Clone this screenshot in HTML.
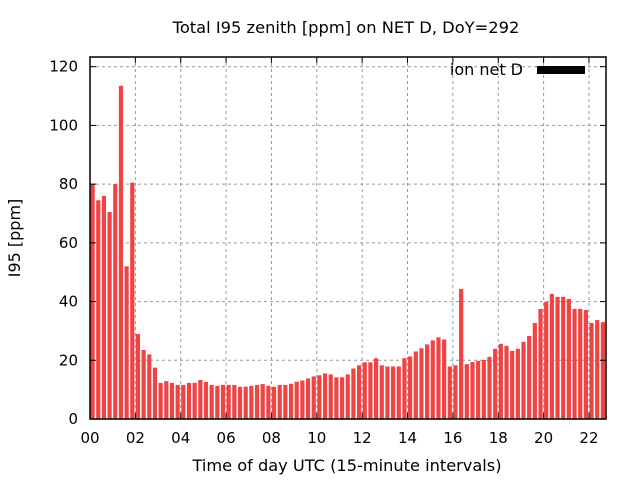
<!DOCTYPE html>
<html><head><meta charset="utf-8"><style>
body{margin:0;background:#fff}
svg text{font-family:"DejaVu Sans","Liberation Sans",sans-serif;fill:#000}
</style></head><body>
<svg id="chart" width="640" height="480">
<defs><clipPath id="pc"><rect x="90" y="57" width="516" height="362"/></clipPath></defs>
<text x="346" y="33" font-size="16.3" text-anchor="middle">Total I95 zenith [ppm] on NET D, DoY=292</text>
<text x="347" y="471" font-size="16.2" text-anchor="middle">Time of day UTC (15-minute intervals)</text>
<text x="20" y="238" font-size="16" text-anchor="middle" transform="rotate(-90 20 238)">I95 [ppm]</text>
<g id="grid"></g><g id="bars" clip-path="url(#pc)"></g><g id="axes"></g>
<text x="523" y="75" font-size="16" text-anchor="end">ion net D</text>
<rect x="537" y="66" width="48" height="8" fill="#000"/>
</svg>
<script>
const values=[80,74.5,76,70.5,80,113.5,52,80.5,29,23.5,22,17.5,
12.3,12.9,12.3,11.6,11.6,12.3,12.3,13.3,12.6,11.6,11.3,11.6,11.6,11.6,11.0,11.0,11.3,11.6,11.9,11.3,11.0,11.6,
11.6,12.0,12.7,13.1,13.8,14.5,14.9,15.5,15.2,14.2,14.2,15.2,17.2,18.3,19.3,19.3,20.7,18.3,17.9,17.9,17.9,20.7,21.3,23.0,24.1,25.4,26.8,27.8,27.1,17.9,18.3,44.3,
18.7,19.4,19.8,20.1,21.2,23.9,25.6,24.9,23.2,23.9,26.3,28.3,32.7,37.5,39.9,42.6,41.6,41.6,40.9,37.5,37.5,37.1,32.7,33.7,33.0,32.3];
const yTicks=[0,20,40,60,80,100,120];
const xTicks=["00","02","04","06","08","10","12","14","16","18","20","22"];
const L=90,R=606,T=57,B=419,ymax=123.3,step=5.67;
const ys=v=>B-v/ymax*(B-T);
const xs=i=>L+i*step;
const ns="http://www.w3.org/2000/svg";
function mk(tag,attrs,parent){const e=document.createElementNS(ns,tag);for(const k in attrs)e.setAttribute(k,attrs[k]);document.getElementById(parent).appendChild(e);return e;}
yTicks.forEach(v=>{const y=ys(v);
 if(v>0){const g=mk('line',{x1:L,x2:R,y1:y,y2:y,stroke:'#999','stroke-dasharray':'3,3'},'grid');
 
 }
 mk('line',{x1:L,x2:L+6,y1:y,y2:y,stroke:'#000'},'axes');
 mk('line',{x1:R,x2:R-6,y1:y,y2:y,stroke:'#000'},'axes');
 const t=mk('text',{x:L-12,y:y+5,'font-size':15,'text-anchor':'end'},'axes');t.textContent=v;
 
 
});
xTicks.forEach((s,k)=>{const x=xs(k*8);
 if(k>0){const g=mk('line',{x1:x,x2:x,y1:T,y2:B,stroke:'#999','stroke-dasharray':'3,3'},'grid');
 
 }
 mk('line',{x1:x,x2:x,y1:B,y2:B-6,stroke:'#000'},'axes');
 mk('line',{x1:x,x2:x,y1:T,y2:T+6,stroke:'#000'},'axes');
 const t=mk('text',{x:x,y:B+24,'font-size':15,'text-anchor':'middle'},'axes');t.textContent=s;
 
 
});
values.forEach((v,i)=>{const x0=xs(i)+0.5;
 const b=mk('rect',{x:x0,y:ys(v),width:4.2,height:B-ys(v),fill:'#f04444'},'bars');
 
 
});
const f=mk('rect',{x:L,y:T,width:R-L,height:B-T,fill:'none',stroke:'#000','stroke-width':1.5},'axes');


</script>
</body></html>
